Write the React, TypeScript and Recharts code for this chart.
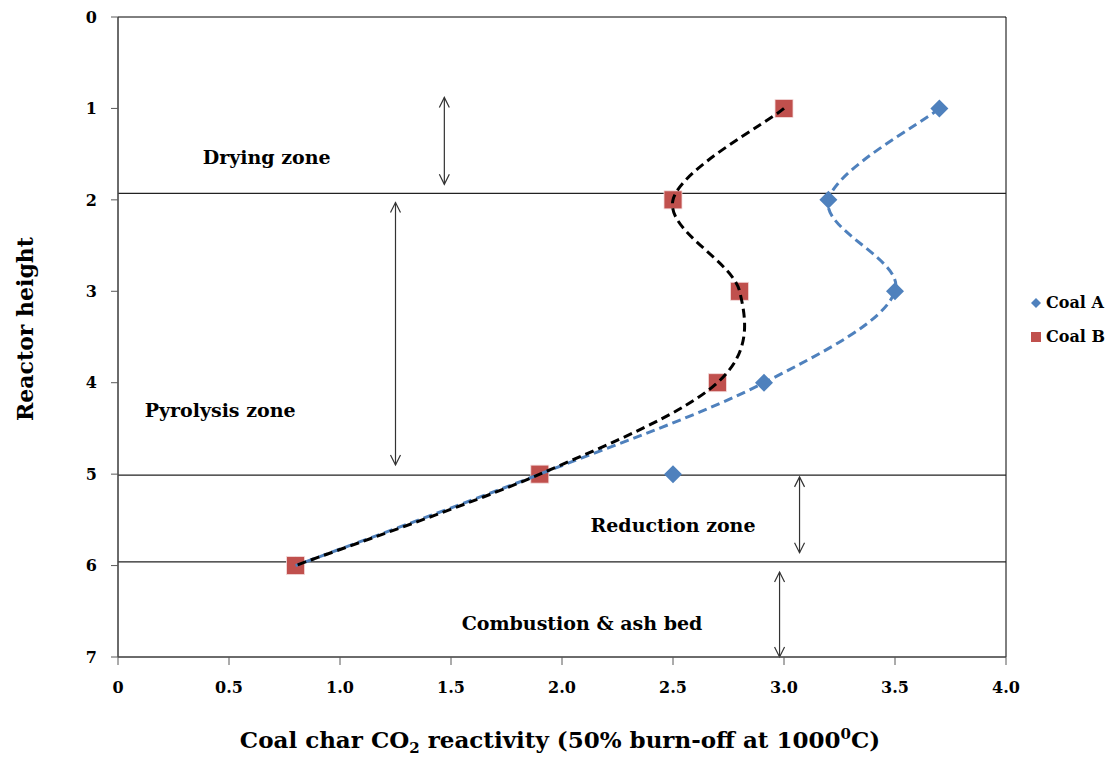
import React from "react";
import {
  ScatterChart,
  Scatter,
  XAxis,
  YAxis,
  ReferenceLine,
  ReferenceArea,
  ReferenceDot,
} from "recharts";

// reactor heights of the sampling points
const heights = [1, 2, 3, 4, 5, 6];
// char CO2 reactivity at each height
const coalA = [3.7, 3.2, 3.5, 2.91, 2.5, 0.8];
const coalB = [3.0, 2.5, 2.8, 2.7, 1.9, 0.8];
// smoothed trend curves
const curveA = [3.7, 3.2, 3.5, 2.91, 1.9, 0.8];
const curveB = [3.0, 2.5, 2.8, 2.7, 1.9, 0.8];

const xTicks = [0, 0.5, 1, 1.5, 2, 2.5, 3, 3.5, 4];
const yTicks = [0, 1, 2, 3, 4, 5, 6, 7];

// zone boundaries (reactor height)
const zoneLines = [1.93, 5.01, 5.96];
const zoneLabels = [
  { name: "Drying zone", x: 0.67, y: 1.54 },
  { name: "Pyrolysis zone", x: 0.46, y: 4.3 },
  { name: "Reduction zone", x: 2.5, y: 5.56 },
  { name: "Combustion & ash bed", x: 2.09, y: 6.63 },
];
const zoneArrows = [
  { x: 1.47, from: 0.88, to: 1.83 },
  { x: 1.25, from: 2.03, to: 4.9 },
  { x: 3.07, from: 5.03, to: 5.86 },
  { x: 2.98, from: 6.07, to: 7.0 },
];

const FONT = "'DejaVu Serif', serif";
const BLUE = "#4F81BD";
const RED = "#C0504D";

const toPoints = (xs: number[]) => xs.map((x, i) => ({ x, y: heights[i] }));

// Excel-style smoothing: cubic Bezier with Catmull-Rom control points
const smoothCurve = (context: any) => {
  let pts: number[][] = [];
  return {
    areaStart() {},
    areaEnd() {},
    lineStart() {
      pts = [];
    },
    point(x: number, y: number) {
      pts.push([+x, +y]);
    },
    lineEnd() {
      if (!pts.length) return;
      context.moveTo(pts[0][0], pts[0][1]);
      for (let i = 0; i < pts.length - 1; i++) {
        const p0 = pts[Math.max(i - 1, 0)];
        const p1 = pts[i];
        const p2 = pts[i + 1];
        const p3 = pts[Math.min(i + 2, pts.length - 1)];
        context.bezierCurveTo(
          p1[0] + (p2[0] - p0[0]) / 6,
          p1[1] + (p2[1] - p0[1]) / 6,
          p2[0] - (p3[0] - p1[0]) / 6,
          p2[1] - (p3[1] - p1[1]) / 6,
          p2[0],
          p2[1]
        );
      }
    },
  };
};

const Diamond = ({ cx, cy }: any) => (
  <polygon
    points={`${cx},${cy - 9} ${cx + 9},${cy} ${cx},${cy + 9} ${cx - 9},${cy}`}
    fill={BLUE}
  />
);

const Square = ({ cx, cy }: any) => (
  <rect x={cx - 9} y={cy - 9} width={18} height={18} fill={RED} stroke="#f4dcdc" strokeWidth={0.8} />
);

const NoMark = () => <g />;

const DoubleArrow = ({ x1, y1, x2, y2 }: any) => (
  <g stroke="#333" strokeWidth={1.2} fill="none">
    <line x1={x1} y1={y1} x2={x2} y2={y2} />
    <polyline points={`${x1 - 5},${y1 + 10} ${x1},${y1} ${x1 + 5},${y1 + 10}`} />
    <polyline points={`${x2 - 5},${y2 - 10} ${x2},${y2} ${x2 + 5},${y2 - 10}`} />
  </g>
);

const ZoneText = (name: string) => ({ cx, cy }: any) => (
  <text
    x={cx}
    y={cy}
    dy="0.35em"
    textAnchor="middle"
    fontFamily={FONT}
    fontWeight="bold"
    fontSize={19}
    fill="#000"
  >
    {name}
  </text>
);

const XTitle = ({ viewBox }: any) => (
  <text
    x={viewBox.x + viewBox.width / 2 - 2}
    y={viewBox.y + 91}
    textAnchor="middle"
    fontFamily={FONT}
    fontWeight="bold"
    fontSize={23}
    fill="#000"
  >
    Coal char CO
    <tspan fontSize={15} dy={5}>2</tspan>
    <tspan dy={-5}> reactivity (50% burn-off at 1000</tspan>
    <tspan fontSize={15} dy={-9}>0</tspan>
    <tspan dy={9}>C)</tspan>
  </text>
);

const YTitle = () => (
  <text
    x={0}
    y={0}
    transform="translate(33, 329) rotate(-90)"
    textAnchor="middle"
    fontFamily={FONT}
    fontWeight="bold"
    fontSize={22}
    fill="#000"
  >
    Reactor height
  </text>
);

const tickStyle = { fontFamily: FONT, fontWeight: "bold", fontSize: 16, fill: "#000" };

const LegendBox = () => (
  <div
    style={{
      position: "absolute",
      left: 1030,
      top: 286,
      fontFamily: FONT,
      fontWeight: "bold",
      fontSize: 16,
      lineHeight: "34px",
    }}
  >
    {[
      { label: "Coal A", mark: <polygon points="6,1 11,6 6,11 1,6" fill={BLUE} /> },
      { label: "Coal B", mark: <rect x={1} y={1} width={10} height={10} fill={RED} /> },
    ].map((d) => (
      <div key={d.label} style={{ display: "flex", alignItems: "center", height: 34 }}>
        <svg width={12} height={12} style={{ marginRight: 4 }}>
          {d.mark}
        </svg>
        {d.label}
      </div>
    ))}
  </div>
);

export default function App() {
  return (
    <div style={{ position: "absolute", left: 0, top: 0, width: 1109, height: 758, background: "#fff" }}>
      <ScatterChart
        width={1109}
        height={758}
        margin={{ top: 17, right: 103, bottom: 41, left: 58 }}
      >
        <XAxis
          type="number"
          dataKey="x"
          domain={[0, 4]}
          ticks={xTicks}
          tickFormatter={(v: number) => (v === 0 ? "0" : v.toFixed(1))}
          height={60}
          tickSize={8}
          tickMargin={17}
          axisLine={{ stroke: "#595959" }}
          tickLine={{ stroke: "#595959" }}
          tick={tickStyle}
          label={<XTitle />}
        />
        <YAxis
          type="number"
          dataKey="y"
          domain={[0, 7]}
          ticks={yTicks}
          reversed
          width={60}
          tickSize={7}
          tickMargin={14}
          axisLine={{ stroke: "#595959" }}
          tickLine={{ stroke: "#595959" }}
          tick={tickStyle}
          label={<YTitle />}
        />
        <ReferenceArea x1={0} x2={4} y1={0} y2={7} stroke="#000" strokeWidth={1} fill="none" fillOpacity={0} />
        {zoneLines.map((h) => (
          <ReferenceLine key={h} y={h} stroke="#222" strokeWidth={1.2} />
        ))}
        {zoneArrows.map((a) => (
          <ReferenceLine
            key={a.x}
            segment={[
              { x: a.x, y: a.from },
              { x: a.x, y: a.to },
            ]}
            shape={DoubleArrow}
          />
        ))}
        {zoneLabels.map((z) => (
          <ReferenceDot key={z.name} x={z.x} y={z.y} r={0} shape={ZoneText(z.name)} />
        ))}
        <Scatter name="Coal A" data={toPoints(coalA)} shape={Diamond} isAnimationActive={false} />
        <Scatter name="Coal B" data={toPoints(coalB)} shape={Square} isAnimationActive={false} />
        <Scatter
          data={toPoints(curveA)}
          shape={NoMark}
          line={{ stroke: BLUE, strokeWidth: 3, strokeDasharray: "9 5" }}
          lineType="joint"
          lineJointType={smoothCurve as any}
          isAnimationActive={false}
        />
        <Scatter
          data={toPoints(curveB)}
          shape={NoMark}
          line={{ stroke: "#000", strokeWidth: 3, strokeDasharray: "9 5" }}
          lineType="joint"
          lineJointType={smoothCurve as any}
          isAnimationActive={false}
        />
      </ScatterChart>
      <LegendBox />
    </div>
  );
}
